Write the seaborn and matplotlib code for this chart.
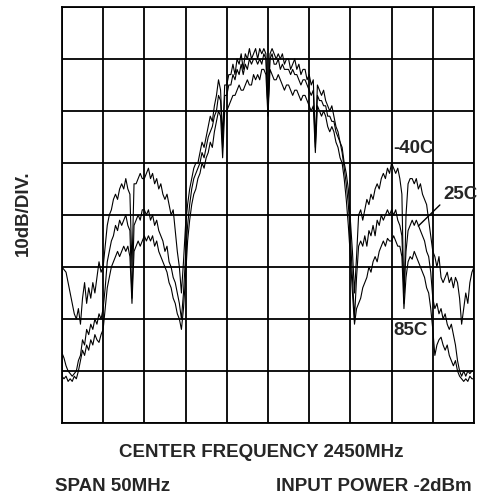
import matplotlib
matplotlib.use("Agg")
import matplotlib.pyplot as plt
import numpy as np
import pandas as pd
import seaborn as sns

# frequency offset from 2450 MHz, 50 MHz span, 0.25 MHz step
freq_mhz = np.round(np.arange(-25, 25.01, 0.25), 2)

# level in dB below reference (10 dB/div, 8 divisions); one row per division
lvl_m40 = [
    -50, -50.5, -51, -53, -55, -57, -59, -60, -58, -61, -56, -53, -57, -54, -56, -53, -55, -52, -49, -51,
    -50, -46, -42, -40, -39, -37, -36, -37, -35, -34, -35, -33, -35, -36, -50, -34, -34, -33, -32, -33,
    -33, -32, -31, -33, -32, -34, -33, -35, -34, -36, -37, -36, -38, -40, -39, -43, -47, -50, -55, -49,
    -42, -38, -35, -33, -31, -30, -30, -28, -26, -27, -25, -23, -21, -22, -19, -17, -14, -16, -25, -15,
    -15, -13, -13, -11, -13, -10, -11, -9, -12, -9, -10, -8, -10, -9, -8, -10, -8, -9, -8, -9,
    -20, -9, -8, -9, -10, -9, -10, -9, -11, -10, -10, -12, -11, -10, -12, -11, -13, -12, -12, -14,
    -13, -15, -14, -26, -15, -16, -17, -16, -18, -19, -20, -19, -21, -23, -24, -26, -27, -30, -32, -35,
    -41, -47, -55, -48, -40, -39, -41, -39, -37, -38, -36, -37, -35, -34, -35, -33, -32, -33, -31, -32,
    -30, -31, -32, -31, -33, -36, -57, -40, -34, -33, -33, -34, -33, -35, -34, -36, -37, -38, -41, -44,
    -47, -48, -50, -48, -52, -53, -52, -51, -53, -52, -54, -52, -53, -56, -61, -58, -55, -57, -53, -51,
    -50,
]
lvl_25 = [
    -66.5, -67.5, -69, -70, -70.5, -71, -70.5, -70, -68, -67, -64, -65, -62, -63, -61, -62, -60, -61, -59, -60,
    -58, -54, -49, -47, -45, -44, -42, -43, -41, -42, -41, -40, -42, -43, -56, -42, -41, -40, -41, -39,
    -39, -40, -39, -41, -40, -42, -41, -43, -44, -45, -47, -46, -49, -50, -52, -53, -55, -57, -60, -55,
    -48, -42, -38, -35, -33, -32, -31, -30, -28, -29, -27, -25, -24, -23, -21, -20, -17, -18, -27, -17,
    -17, -15, -15, -13, -14, -12, -13, -11, -13, -11, -12, -10, -11, -10, -10, -11, -10, -11, -9, -10,
    -20, -10, -9, -11, -11, -10, -12, -11, -12, -12, -12, -13, -12, -13, -13, -14, -15, -14, -14, -15,
    -16, -17, -16, -27, -17, -18, -18, -19, -19, -21, -21, -22, -22, -24, -25, -26, -28, -31, -34, -38,
    -44, -52, -60, -52, -46, -45, -46, -44, -46, -43, -44, -42, -44, -41, -42, -40, -41, -40, -39, -40,
    -39, -40, -39, -41, -42, -44, -55, -47, -43, -42, -41, -42, -41, -42, -43, -44, -45, -47, -48, -51,
    -56, -58, -57, -59, -58, -60, -59, -61, -62, -61, -63, -65, -68, -70, -71, -70, -71, -70, -70.5, -70,
    -70,
]
lvl_85 = [
    -71, -71.5, -71, -72, -71.5, -72, -71, -71.5, -70, -68, -66, -67, -65, -66, -64, -65, -63, -64, -64.5, -63,
    -62, -58, -54, -52, -50, -49, -48, -47, -48, -47, -46, -47, -46, -48, -57, -47, -46, -45, -46, -45,
    -44, -45, -44, -45, -44, -46, -45, -47, -48, -49, -50, -51, -53, -54, -56, -57, -59, -60, -62, -58,
    -52, -45, -41, -38, -36, -35, -33, -32, -30, -31, -29, -28, -26, -27, -24, -22, -20, -21, -29, -20,
    -20, -19, -18, -17, -17, -16, -15, -16, -16, -15, -14, -15, -15, -13, -14, -13, -14, -12, -12, -13,
    -21, -12, -13, -14, -14, -13, -14, -15, -16, -15, -15, -16, -17, -16, -16, -17, -18, -17, -17, -18,
    -19, -20, -19, -28, -19, -20, -21, -20, -21, -23, -24, -23, -24, -26, -27, -29, -30, -33, -37, -42,
    -48, -55, -61, -58, -57, -56, -54, -53, -52, -50, -51, -49, -48, -49, -47, -46, -45, -46, -44.5, -45,
    -45, -44, -45, -46, -46, -48, -58, -52, -49, -48, -48.5, -47, -48, -49, -50, -51, -52, -54, -55, -58,
    -62, -67, -65, -64, -63.5, -65, -66, -65, -67, -68, -69, -68, -70, -71, -71.5, -72, -71.5, -72, -71, -71.5,
    -71.5,
]
temps = ["-40C", "25C", "85C"]

df = pd.concat([
    pd.DataFrame({"freq": freq_mhz, "level": lv, "temp": t})
    for t, lv in zip(temps, [lvl_m40, lvl_25, lvl_85])
])

sns.set_style("white")
plt.rcParams["font.family"] = ["Liberation Sans", "DejaVu Sans"]

fig = plt.figure(figsize=(4.8, 4.99), dpi=100)
ax = fig.add_axes([0.129, 0.1523, 0.8585, 0.8337])

sns.lineplot(data=df, x="freq", y="level", hue="temp",
             palette=["black"] * 3, linewidth=0.8, legend=False, ax=ax)

ax.set_xlim(-25, 25)
ax.set_ylim(-80, 0)
ax.set_xticks(np.arange(-25, 26, 5))
ax.set_yticks(np.arange(-80, 1, 10))
ax.grid(True, color="black", linewidth=1.3)
ax.tick_params(length=0, labelbottom=False, labelleft=False)
ax.set_xlabel("")
ax.set_ylabel("")
for s in ax.spines.values():
    s.set_color("black")
    s.set_linewidth(1.3)

fs = 13.5
# trace labels
ax.text(15.2, -27.3, "-40C", fontsize=fs, fontweight="bold", ha="left", va="center")
ax.text(25.4, -36.0, "25C", fontsize=fs, fontweight="bold", ha="right", va="center")
ax.annotate("", xy=(18.0, -42.5), xytext=(21.1, -37.7),
            arrowprops=dict(arrowstyle="-", color="black", lw=1.0))
ax.text(15.2, -62.3, "85C", fontsize=fs, fontweight="bold", ha="left", va="center")

fig.text(0.048, 0.573, "10dB/DIV.", rotation=90, fontsize=fs, fontweight="bold",
         ha="center", va="center")
fig.text(0.545, 0.094, "CENTER FREQUENCY 2450MHz", fontsize=fs, fontweight="bold",
         ha="center", va="center")
fig.text(0.115, 0.026, "SPAN 50MHz", fontsize=fs, fontweight="bold",
         ha="left", va="center")
fig.text(0.983, 0.026, "INPUT POWER -2dBm", fontsize=fs, fontweight="bold",
         ha="right", va="center")

fig.savefig("out.png", dpi=100, facecolor="white")
